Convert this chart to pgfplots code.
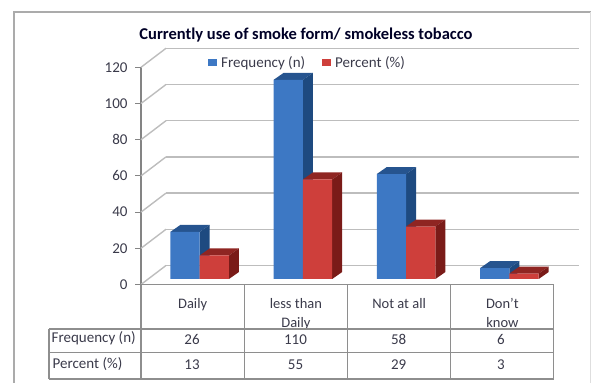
\documentclass[border=0pt]{standalone}
\usepackage{pgfplots}
\usepackage{pgfplotstable}
\usepackage{fontspec}
\pgfplotsset{compat=1.18}
\setmainfont{Carlito}
\definecolor{txt}{HTML}{3A3A4A}
\definecolor{gridc}{HTML}{BDBDBD}
\definecolor{framec}{HTML}{ABABAB}
\definecolor{tablec}{HTML}{8E8E8E}
\definecolor{bluef}{HTML}{3D78C4}
\definecolor{bluet}{HTML}{26548F}
\definecolor{blues}{HTML}{1E4A80}
\definecolor{redf}{HTML}{CE3F3B}
\definecolor{redt}{HTML}{8F2522}
\definecolor{reds}{HTML}{7A1B18}

\pgfplotstableread{
id freq pct
0  26   13
1  110  55
2  58   29
3  6    3
}\usedata

% Receding depth of each bar, in axis units
\def\ddx{0.097}
\def\ddy{3.87}
% Top and side faces of one bar: left edge, value, top colour, side colour
\newcommand\barfaces[4]{%
  \pgfmathsetmacro\xl{#1}%
  \pgfmathsetmacro\xr{#1+0.284}%
  \pgfmathsetmacro\xlb{#1+\ddx}%
  \pgfmathsetmacro\xrb{#1+0.284+\ddx}%
  \pgfmathsetmacro\vt{#2+\ddy}%
  \addplot[forget plot,fill=#3,draw=none,no markers] coordinates {(\xl,#2) (\xlb,\vt) (\xrb,\vt) (\xr,#2)} --cycle;
  \addplot[forget plot,fill=#4,draw=none,no markers] coordinates {(\xr,0) (\xrb,\ddy) (\xrb,\vt) (\xr,#2)} --cycle;
}

\begin{document}
\begin{tikzpicture}[x=1pt,y=1pt]
\path[use as bounding box] (0,0) rectangle (592,383);
% Outer frame
\draw[framec,line width=1.3pt] (14,-2) -- (14,371) -- (591,371);
\draw[gridc!50,line width=0.8pt] (590.5,371) -- (590.5,-2);

% Back wall with its gridlines
\begin{axis}[
  at={(166pt,117.5pt)},anchor=south west,scale only axis,
  width=413pt,height=217.2pt,
  xmin=-0.5,xmax=3.5,ymin=0,ymax=120,
  xtick=\empty,ytick={0,20,...,120},yticklabels={},
  major tick length=0pt,
  axis line style={draw=none},
  ymajorgrids,
  grid style={gridc,line width=1.4pt},
]
\end{axis}

% Value axis, floor edge and category labels
\begin{axis}[
  at={(141pt,98.5pt)},anchor=south west,scale only axis,
  width=413pt,height=217.2pt,
  xmin=-0.5,xmax=3.5,ymin=0,ymax=120,clip=false,
  axis y line*=left,axis x line*=bottom,
  axis line style={gridc!70!black,line width=1.2pt,-},
  xtick={0,1,2,3},
  xticklabels={Daily,{less than\\Daily},Not at all,{Don't\\know}},
  x tick label style={align=center,anchor=north,yshift=-4pt,font=\fontsize{14.5}{19}\selectfont,text=txt},
  ytick={0,20,...,120},
  y tick label style={font=\fontsize{15}{15}\selectfont,text=txt,xshift=-4pt},
  /pgf/number format/assume math mode=true,
  tick style={gridc!70!black,line width=1pt},
  tick align=outside,
  major tick length=6pt,
  x tick style={draw=none},
]
% Side-wall edges running back from the axis to the wall
\pgfplotsforeachungrouped \v in {0,20,...,120}{%
  \pgfmathsetmacro\vb{\v+10.5}%
  \addplot[gridc,line width=1.4pt,forget plot] coordinates {(-0.5,\v) (-0.258,\vb)};
}
\end{axis}

% Bars: receding faces first, fronts on top
\begin{axis}[
  at={(148pt,104pt)},anchor=south west,scale only axis,
  width=413pt,height=217.2pt,
  xmin=-0.5,xmax=3.5,ymin=0,ymax=120,clip=false,
  axis lines=none,
  legend style={
    at={(0,0)},anchor=west,
    xshift=60pt,yshift=216pt,
    draw=none,fill=none,inner sep=0pt,
    font=\fontsize{15}{16}\selectfont,text=txt,
    /tikz/every even column/.append style={column sep=15pt},
    /tikz/every odd column/.append style={column sep=2pt},
  },
  legend columns=2,
  legend image code/.code={
    \draw[#1,draw=none] (0cm,-3.5pt) rectangle (9pt,4pt);
  },
]
\pgfplotsforeachungrouped \r in {0,1,2,3}{%
  \pgfplotstablegetelem{\r}{freq}\of\usedata\let\fv\pgfplotsretval
  \pgfmathsetmacro\lft{\r-0.284}%
  \barfaces{\lft}{\fv}{bluet}{blues}
}
\pgfplotsforeachungrouped \r in {0,1,2,3}{%
  \pgfplotstablegetelem{\r}{pct}\of\usedata\let\pv\pgfplotsretval
  \barfaces{\r}{\pv}{redt}{reds}
}
\addplot[ybar,bar width=0.284,bar shift=-0.142,fill=bluef,draw=none] table[x=id,y=freq] {\usedata};
\addplot[ybar,bar width=0.284,bar shift=0.142,fill=redf,draw=none] table[x=id,y=pct] {\usedata};
\legend{Frequency (n),Percent (\%)}
\end{axis}

% Data table under the plot
\begin{scope}[tablec,line width=1.2pt]
  \draw (141,98.5) -- (554,98.5);
  \draw (49,54) -- (554,54);
  \draw (49,30.3) -- (554,30.3);
  \draw (49,4) -- (554,4);
  \draw (49,54) -- (49,4);
  \foreach \x in {141,244.5,347.7,450.7,553.7} \draw (\x,98.5) -- (\x,4);
\end{scope}
\begin{scope}[text=txt,font=\fontsize{15}{16}\selectfont]
  \node[anchor=west,inner sep=0pt] at (51.5,45) {Frequency (n)};
  \node[anchor=west,inner sep=0pt] at (52.5,19) {Percent (\%)};
  \foreach \x/\a/\b in {192/26/13,295.5/110/55,398.7/58/29,501/6/3}{
    \node[inner sep=0pt] at (\x,43.5) {\a};
    \node[inner sep=0pt] at (\x,18.5) {\b};
  }
\end{scope}

% Chart title
\node[inner sep=0pt,text=black!85!blue,font=\bfseries\fontsize{16.5}{18}\selectfont] at (306,348) {Currently use of smoke form/ smokeless tobacco};
\end{tikzpicture}
\end{document}
